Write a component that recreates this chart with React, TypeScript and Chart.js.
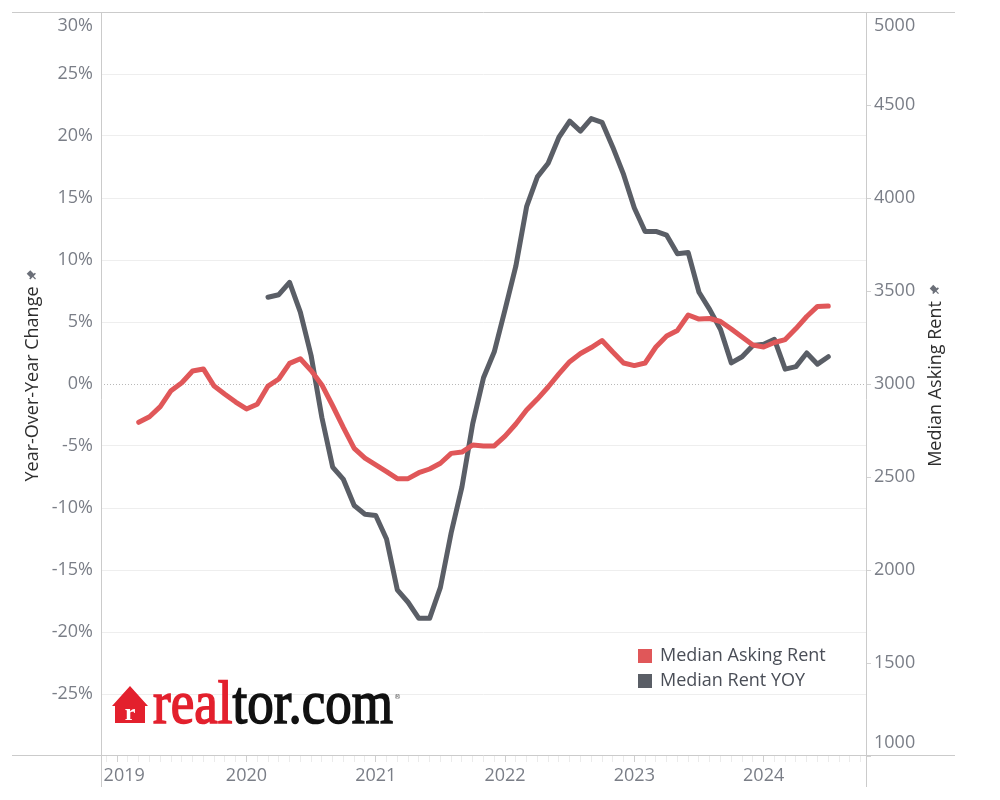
import React, { useEffect, useRef } from 'react';
import { Chart, registerables } from 'chart.js';

Chart.register(...registerables);

// ---------- data ----------
const months = [
  '2019-03', '2019-04', '2019-05', '2019-06', '2019-07', '2019-08', '2019-09', '2019-10', '2019-11', '2019-12',
  '2020-01', '2020-02', '2020-03', '2020-04', '2020-05', '2020-06', '2020-07', '2020-08', '2020-09', '2020-10', '2020-11', '2020-12',
  '2021-01', '2021-02', '2021-03', '2021-04', '2021-05', '2021-06', '2021-07', '2021-08', '2021-09', '2021-10', '2021-11', '2021-12',
  '2022-01', '2022-02', '2022-03', '2022-04', '2022-05', '2022-06', '2022-07', '2022-08', '2022-09', '2022-10', '2022-11', '2022-12',
  '2023-01', '2023-02', '2023-03', '2023-04', '2023-05', '2023-06', '2023-07', '2023-08', '2023-09', '2023-10', '2023-11', '2023-12',
  '2024-01', '2024-02', '2024-03', '2024-04', '2024-05', '2024-06', '2024-07',
];

const medianAskingRent = [
  2794, 2824, 2878, 2964, 3007, 3070, 3081, 2989, 2945, 2903,
  2866, 2891, 2989, 3027, 3111, 3136, 3072, 2995, 2883, 2765, 2654, 2601,
  2565, 2529, 2491, 2491, 2523, 2543, 2574, 2627, 2634, 2672, 2667, 2667,
  2720, 2785, 2860, 2919, 2984, 3054, 3120, 3164, 3196, 3234, 3172, 3113,
  3099, 3113, 3199, 3258, 3288, 3371, 3349, 3352, 3336, 3296, 3253, 3210,
  3199, 3223, 3239, 3298, 3363, 3417, 3419,
];

const medianRentYoy: (number | null)[] = [
  null, null, null, null, null, null, null, null, null, null,
  null, null, 7.0, 7.2, 8.2, 5.8, 2.3, -2.7, -6.7, -7.7, -9.8, -10.5,
  -10.6, -12.5, -16.6, -17.6, -18.9, -18.9, -16.4, -12.0, -8.3, -3.2, 0.5, 2.6,
  6.0, 9.5, 14.3, 16.7, 17.8, 19.9, 21.2, 20.4, 21.4, 21.1, 19.1, 16.9,
  14.2, 12.3, 12.3, 12.0, 10.5, 10.6, 7.4, 6.0, 4.4, 1.7, 2.2, 3.1,
  3.2, 3.6, 1.2, 1.4, 2.5, 1.6, 2.2,
];

const yearLabels = ['2019', '2020', '2021', '2022', '2023', '2024'];
const seriesNames = ['Median Asking Rent', 'Median Rent YOY'];
const axisTitles = ['Year-Over-Year Change', 'Median Asking Rent'];

// ---------- styling ----------
const FONT = '"Open Sans", "Noto Sans", sans-serif';
const TICK_COLOR = '#7a7e87';
const RED = '#e05759';
const GRAY = '#5a5e66';

const firstYear = Number(yearLabels[0]);
const monthIndex = (s: string) => {
  const [y, m] = s.split('-').map(Number);
  return (y - firstYear) * 12 + (m - 1);
};

const toPoints = (vals: (number | null)[]) =>
  months.map((m, i) => ({ x: monthIndex(m), y: vals[i] }));

const zeroPad = (s: any) => {
  s.paddingTop = 0;
  s.paddingBottom = 0;
  s.paddingLeft = 0;
  s.paddingRight = 0;
};

const drawPin = (ctx: CanvasRenderingContext2D, x: number, y: number) => {
  // small push-pin glyph next to axis titles (drawn in rotated frame)
  ctx.save();
  ctx.translate(x, y);
  ctx.rotate(Math.PI / 4);
  ctx.fillStyle = '#6b6f78';
  ctx.fillRect(-2.5, -5, 5, 6);
  ctx.fillRect(-4, 0, 8, 1.6);
  ctx.fillRect(-0.6, 1, 1.2, 4);
  ctx.restore();
};

const decorPlugin = {
  id: 'decor',
  beforeDatasetsDraw(chart: any) {
    const { ctx, chartArea: a, scales } = chart;
    const yS = scales.y;
    ctx.save();
    // zero line, dotted
    const y0 = Math.round(yS.getPixelForValue(0)) + 0.5;
    ctx.strokeStyle = '#b8b8b8';
    ctx.lineWidth = 1;
    ctx.setLineDash([1, 2]);
    ctx.beginPath();
    ctx.moveTo(a.left, y0);
    ctx.lineTo(a.right, y0);
    ctx.stroke();
    ctx.setLineDash([]);
    // frame
    ctx.strokeStyle = '#cbcbcb';
    const xStart = yS.left;
    const xEnd = scales.y1.right - 45;
    const top = Math.round(a.top) + 0.5;
    const bottom = Math.round(a.bottom) - 0.5;
    ctx.beginPath();
    ctx.moveTo(xStart, top);
    ctx.lineTo(xEnd, top);
    ctx.moveTo(xStart, bottom);
    ctx.lineTo(xEnd, bottom);
    const lx = Math.round(a.left) + 0.5;
    const rx = Math.round(a.right) + 0.5;
    ctx.moveTo(lx, a.top);
    ctx.lineTo(lx, a.bottom + 31);
    ctx.moveTo(rx, a.top);
    ctx.lineTo(rx, a.bottom + 31);
    ctx.stroke();
    ctx.restore();
  },
  afterDraw(chart: any) {
    const { ctx, chartArea: a } = chart;
    const midY = (a.top + a.bottom) / 2;
    ctx.save();
    // legend
    const lx = a.right - 228;
    const ly = a.bottom - 107;
    ctx.font = `18px ${FONT}`;
    ctx.textBaseline = 'middle';
    ctx.textAlign = 'left';
    chart.data.datasets.forEach((ds: any, i: number) => {
      ctx.fillStyle = ds.borderColor;
      ctx.fillRect(lx, ly + i * 25, 14, 14);
      ctx.fillStyle = '#4a4e57';
      ctx.fillText(ds.label, lx + 22, ly + 7 + i * 25);
    });
    // right axis title (reads bottom-to-top)
    ctx.save();
    ctx.translate(a.right + 70, midY);
    ctx.rotate(-Math.PI / 2);
    ctx.textAlign = 'center';
    ctx.textBaseline = 'middle';
    ctx.fillStyle = '#2e2e2e';
    ctx.font = `18px ${FONT}`;
    ctx.fillText(axisTitles[1], 0, 0);
    const w2 = ctx.measureText(axisTitles[1]).width;
    drawPin(ctx, w2 / 2 + 11, -1);
    ctx.restore();
    // pin for left title
    ctx.save();
    ctx.font = `18px ${FONT}`;
    const w0 = ctx.measureText(axisTitles[0]).width;
    ctx.translate(33, midY);
    ctx.rotate(-Math.PI / 2);
    drawPin(ctx, w0 / 2 + 11, -1);
    ctx.restore();
    // logo
    const bx = a.left + 11;
    const by = a.bottom - 33;
    ctx.fillStyle = '#e3202d';
    ctx.beginPath();
    ctx.moveTo(bx, by - 17);
    ctx.lineTo(bx + 18, by - 37);
    ctx.lineTo(bx + 36, by - 17);
    ctx.lineTo(bx + 33, by - 17);
    ctx.lineTo(bx + 33, by);
    ctx.lineTo(bx + 3, by);
    ctx.lineTo(bx + 3, by - 17);
    ctx.closePath();
    ctx.fill();
    ctx.fillStyle = '#ffffff';
    ctx.font = 'bold 24px "Liberation Serif", serif';
    ctx.textAlign = 'center';
    ctx.textBaseline = 'alphabetic';
    ctx.fillText('r', bx + 18, by - 3);
    ctx.textAlign = 'left';
    ctx.font = '61px "Liberation Serif", serif';
    const w1 = ctx.measureText('real').width;
    const wAll = ctx.measureText('realtor.com').width;
    const sx = 240 / wAll;
    ctx.save();
    ctx.translate(bx + 41, by);
    ctx.scale(sx, 1);
    ctx.lineWidth = 1.6;
    ctx.fillStyle = '#e3202d';
    ctx.strokeStyle = '#e3202d';
    ctx.fillText('real', 0, 0);
    ctx.strokeText('real', 0, 0);
    ctx.fillStyle = '#111111';
    ctx.strokeStyle = '#111111';
    ctx.fillText('tor.com', w1, 0);
    ctx.strokeText('tor.com', w1, 0);
    ctx.restore();
    ctx.font = '7px "DejaVu Sans", sans-serif';
    ctx.fillStyle = '#555';
    ctx.fillText('®', bx + 282, by - 24);
    ctx.restore();
  },
};

export default function App() {
  const ref = useRef<HTMLCanvasElement>(null);

  useEffect(() => {
    if (!ref.current) return;
    const chart = new Chart(ref.current, {
      type: 'line',
      data: {
        datasets: [
          {
            label: seriesNames[0],
            data: toPoints(medianAskingRent),
            yAxisID: 'y1',
            borderColor: RED,
            backgroundColor: RED,
            borderWidth: 5,
            pointRadius: 0,
            tension: 0,
            borderJoinStyle: 'round',
            borderCapStyle: 'round',
          },
          {
            label: seriesNames[1],
            data: toPoints(medianRentYoy),
            yAxisID: 'y',
            borderColor: GRAY,
            backgroundColor: GRAY,
            borderWidth: 5,
            pointRadius: 0,
            tension: 0,
            spanGaps: false,
            borderJoinStyle: 'round',
            borderCapStyle: 'round',
          },
        ],
      },
      options: {
        animation: false,
        responsive: false,
        devicePixelRatio: 1,
        layout: { padding: { top: 12, left: 12, right: 0, bottom: 0 } },
        plugins: {
          legend: { display: false },
          tooltip: { enabled: false },
        },
        scales: {
          x: {
            type: 'linear',
            min: -1.5,
            max: 69.5,
            afterBuildTicks: (s: any) => {
              const t = [];
              for (let v = Math.ceil(s.min); v <= Math.floor(s.max); v++) t.push({ value: v });
              s.ticks = t;
            },
            afterFit: (s: any) => {
              s.height = 44;
              zeroPad(s);
            },
            border: { display: false },
            grid: {
              drawOnChartArea: false,
              drawTicks: true,
              tickLength: 6,
              tickWidth: 1,
              tickColor: (c: any) => (c.tick && c.tick.value % 12 === 0 ? '#cfcfcf' : '#ebebeb'),
            },
            ticks: {
              autoSkip: false,
              maxRotation: 0,
              minRotation: 0,
              padding: 3,
              color: TICK_COLOR,
              font: { family: FONT, size: 18 },
              callback: (v: any) => {
                const n = Number(v);
                if (n % 12 !== 0) return '';
                const lab = yearLabels[n / 12];
                if (!lab) return '';
                return n === 0 ? '   ' + lab : lab;
              },
            },
          },
          y: {
            position: 'left',
            min: -30,
            max: 30,
            afterFit: (s: any) => {
              s.width = 89;
              zeroPad(s);
            },
            border: { display: false },
            grid: {
              drawTicks: false,
              lineWidth: 1,
              color: (c: any) =>
                c.tick && (c.tick.value === 0 || Math.abs(c.tick.value) === 30) ? 'rgba(0,0,0,0)' : '#eeeeee',
            },
            ticks: {
              stepSize: 5,
              padding: 8,
              color: TICK_COLOR,
              font: (c: any) => ({
                family: FONT,
                size: 18,
                lineHeight: c.tick && c.tick.value === 30 ? '27px' : 1.2,
              }),
              callback: (v: any) => {
                const n = Number(v);
                if (n === -30) return '';
                if (n === 30) return ['', n + '%'];
                return n + '%';
              },
            },
            title: {
              display: true,
              text: axisTitles[0],
              color: '#2e2e2e',
              font: { family: FONT, size: 18 },
              padding: { top: 10, bottom: 0 },
            },
          },
          y1: {
            position: 'right',
            min: 1000,
            max: 5000,
            afterFit: (s: any) => {
              s.width = 134;
              zeroPad(s);
            },
            border: { display: false },
            grid: {
              drawOnChartArea: false,
              drawTicks: true,
              tickLength: 5,
              tickColor: '#d3d3d3',
            },
            ticks: {
              stepSize: 500,
              padding: 3,
              color: TICK_COLOR,
              font: (c: any) => ({
                family: FONT,
                size: 18,
                lineHeight: c.tick && (c.tick.value === 5000 || c.tick.value === 1000) ? '27px' : 1.2,
              }),
              callback: (v: any) => {
                const n = Number(v);
                if (n === 5000) return ['', String(n)];
                if (n === 1000) return [String(n), ''];
                return String(n);
              },
            },
          },
        },
      },
      plugins: [decorPlugin],
    } as any);
    return () => chart.destroy();
  }, []);

  return (
    <div style={{ position: 'fixed', left: 0, top: 0, width: 1000, height: 800, background: '#ffffff' }}>
      <canvas ref={ref} width={1000} height={800} style={{ width: 1000, height: 800, display: 'block' }} />
    </div>
  );
}
